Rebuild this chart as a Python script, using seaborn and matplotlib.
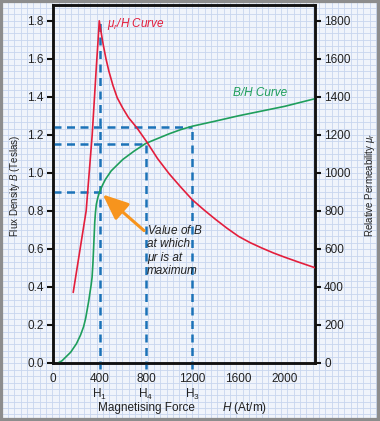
import matplotlib
matplotlib.use("Agg")
import matplotlib.pyplot as plt
import seaborn as sns
import numpy as np
import pandas as pd
from matplotlib.patches import Rectangle

# B/H magnetisation curve: H (At/m) -> B (Teslas)
bh_H = [45, 75, 100, 150, 200, 235, 262, 280, 293, 306, 317, 327, 335, 342, 348, 353,
        358, 364, 372, 385, 400, 425, 450, 500, 550, 600, 700, 800, 900, 1000, 1100,
        1200, 1400, 1600, 1800, 2000, 2260]
bh_B = [0.0, 0.01, 0.025, 0.055, 0.10, 0.145, 0.19, 0.235, 0.28, 0.325, 0.37, 0.41,
        0.45, 0.52, 0.60, 0.67, 0.74, 0.79, 0.835, 0.87, 0.90, 0.935, 0.965, 1.01, 1.04,
        1.07, 1.115, 1.155, 1.18, 1.205, 1.227, 1.245, 1.272, 1.30, 1.325, 1.35, 1.39]

# relative permeability curve: H (At/m) -> mu_r
mu_H = [172, 228, 284, 310, 336, 355, 371, 385, 397, 410, 431, 455, 480, 515, 552, 600,
        650, 724, 810, 900, 1000, 1100, 1200, 1300, 1400, 1500, 1600, 1700, 1800, 1900,
        2000, 2130, 2260]
mu_r = [370, 585, 800, 1000, 1200, 1390, 1550, 1680, 1800, 1750, 1675, 1600, 1535, 1460,
        1395, 1340, 1290, 1235, 1160, 1075, 995, 925, 858, 805, 755, 708, 665, 632, 604,
        578, 555, 527, 500]

# marked operating points
mark_H = [400, 800, 1200]
mark_B = [0.90, 1.15, 1.24]
mark_top = [1.80, 1.15, 1.24]
mark_names = ["H$_1$", "H$_4$", "H$_3$"]

x_ticks = [0, 400, 800, 1200, 1600, 2000]
b_ticks = [0.0, 0.2, 0.4, 0.6, 0.8, 1.0, 1.2, 1.4, 1.6, 1.8]
mu_ticks = [0, 200, 400, 600, 800, 1000, 1200, 1400, 1600, 1800]

RED = "#e31e3c"
GREEN = "#1f9e5c"
BLUE = "#1b72b8"
ORANGE = "#f7941d"

sns.set_theme(style="white")
plt.rcParams["font.family"] = ["Liberation Sans", "DejaVu Sans"]
plt.rcParams["mathtext.fontset"] = "custom"
plt.rcParams["mathtext.rm"] = "Liberation Sans"
plt.rcParams["mathtext.it"] = "Liberation Sans:italic"

fig = plt.figure(figsize=(3.8, 4.21), dpi=100)
fig.patch.set_facecolor("#f0f4fb")

# graph-paper background
bg = fig.add_axes([0, 0, 1, 1], zorder=-10)
bg.set_xlim(0, 380)
bg.set_ylim(421, 0)
bg.axis("off")
step = 6.35
bg.vlines(np.arange(1.5, 380, step), 0, 421, color="#c8d6ee", lw=0.6)
bg.hlines(np.arange(1.5, 421, step), 0, 380, color="#c8d6ee", lw=0.6)

ax = fig.add_axes([0.1387, 0.1385, 0.829 - 0.1387, 0.988 - 0.1385])
ax.patch.set_visible(False)
ax2 = ax.twinx()

df_bh = pd.DataFrame({"H": bh_H, "B": bh_B})
df_mu = pd.DataFrame({"H": mu_H, "mu": mu_r})
sns.lineplot(data=df_bh, x="H", y="B", ax=ax, color=GREEN, lw=1.2, sort=False, zorder=4)
sns.lineplot(data=df_mu, x="H", y="mu", ax=ax2, color=RED, lw=1.2, sort=False, zorder=4)

ymax = 1.883
ax.set_xlim(-5, 2260)
ax.set_ylim(0, ymax)
ax2.set_ylim(0, ymax * 1000)

# dashed guide lines
for h, b, top in zip(mark_H, mark_B, mark_top):
    ax.hlines(b, -5, h, color=BLUE, lw=1.8, linestyles=(0, (3.2, 2.2)), zorder=3)
    ax.vlines(h, -0.034, top, color=BLUE, lw=1.8, linestyles=(0, (3.2, 2.2)),
              zorder=3, clip_on=False)

ax.set_xticks(x_ticks)
labels = []
for t in x_ticks:
    if t in mark_H:
        labels.append(f"{t}\n{mark_names[mark_H.index(t)]}")
    else:
        labels.append(str(t))
ax.set_xticklabels(labels, fontsize=8.5, linespacing=1.15)
ax.set_yticks(b_ticks)
ax.set_yticklabels([f"{v:.1f}" for v in b_ticks], fontsize=8.5)
ax2.set_yticks(mu_ticks)
ax2.set_yticklabels([str(v) for v in mu_ticks], fontsize=8.5)

for a in (ax, ax2):
    for s in a.spines.values():
        s.set_color("#111111")
        s.set_linewidth(1.8)
    a.tick_params(length=4.5, width=1.5, color="#111111", labelcolor="#222222", pad=2)
    a.set_xlabel("")
    a.set_ylabel("")
ax.tick_params(axis="x", pad=3)

# curve labels and annotation
ax.text(464, 1.783, r"$\mu_r$/H Curve", color=RED, style="italic", fontsize=8.5,
        va="center", ha="left")
ax.text(1555, 1.419, "B/H Curve", color=GREEN, style="italic", fontsize=8.5,
        va="center", ha="left")
ax.annotate("", xy=(mark_H[0], mark_B[0]), xytext=(32, -28), textcoords="offset points",
            arrowprops=dict(arrowstyle="-|>,head_length=1.3,head_width=0.55",
                            color=ORANGE, lw=2.2, shrinkA=0, shrinkB=3), zorder=6)
ax.text(810, 0.73, "Value of $B$\nat which\n\u03bcr is at\nmaximum", style="italic",
        fontsize=8.5, color="#222222", va="top", ha="left", linespacing=1.15)

# axis titles
fig.text(15 / 380, 1 - 186 / 421, "Flux Density $B$ (Teslas)", rotation=90,
         fontsize=7, ha="center", va="center", color="#222222")
fig.text(370 / 380, 1 - 185 / 421, r"Relative Permeability $\mu_r$", rotation=90,
         fontsize=7, ha="center", va="center", color="#222222")
fig.text(98 / 380, 1 - 408 / 421, "Magnetising Force", fontsize=8.5, ha="left",
         va="center", color="#222222")
fig.text(222 / 380, 1 - 408 / 421, "$H$ (At/m)", fontsize=8.5, ha="left",
         va="center", color="#222222")

# grey frame
fig.patches.append(Rectangle((0, 0), 1, 1, transform=fig.transFigure, fill=False,
                             edgecolor="#8d8d8d", lw=4.5))
fig.patches.append(Rectangle((0, 0), 1, 3 / 421, transform=fig.transFigure,
                             facecolor="#8d8d8d", edgecolor="none"))

fig.savefig("out.png", dpi=100)
